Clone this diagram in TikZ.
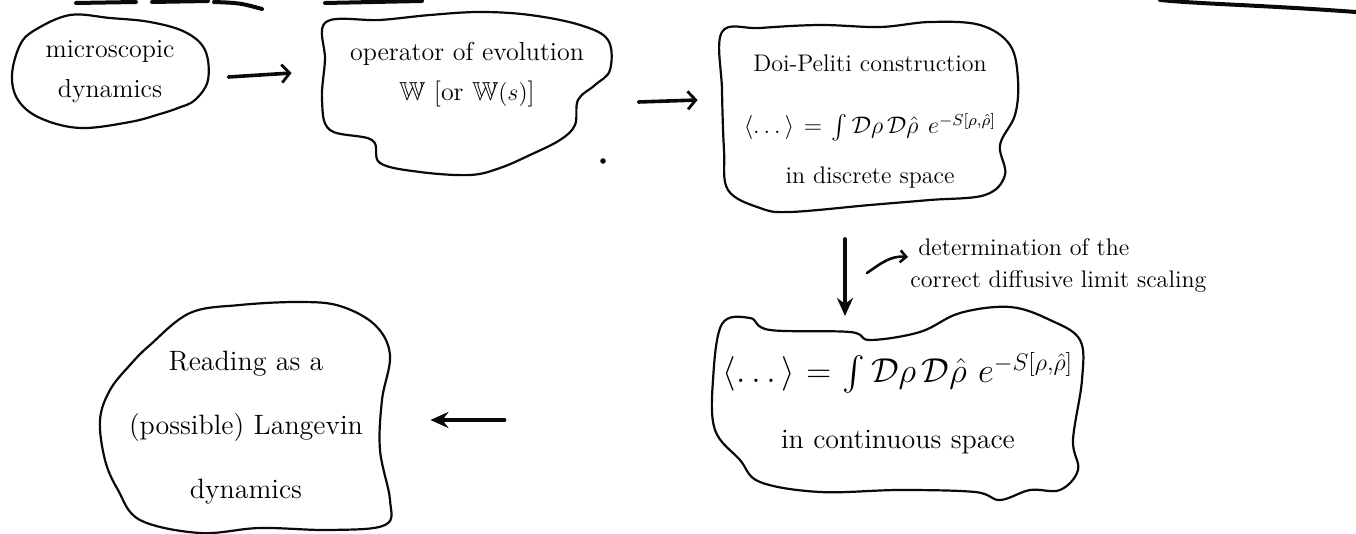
\documentclass[tikz,border=0pt]{standalone}
\usepackage{amsmath,amssymb}
\usepackage{fontspec}
\usepackage{tikz}
\usetikzlibrary{calc,arrows.meta}
\definecolor{inkBlack}{RGB}{10,10,10}

\begin{document}
\begin{tikzpicture}[x=0.5pt,y=-0.5pt,
  blob/.style={inkBlack, line width=1.1pt, line join=round},
  lbl/.style={inner sep=0pt, align=center, font=\fontsize{13}{20}\selectfont},
  arr/.style={inkBlack, line width=1.8pt, line cap=round, -{Straight Barb[length=4pt,width=9pt,line width=1.4pt]}},
  arrs/.style={inkBlack, line width=1.8pt, line cap=round, -{Stealth[length=9pt,width=8pt]}},
  anno/.style={inner sep=0pt, align=left, font=\fontsize{12}{16}\selectfont}]
\useasboundingbox (0,0) rectangle (1356,534);

\draw[inkBlack, line width=2pt, line cap=round] (76,3) -- (136,2);
\draw[inkBlack, line width=2pt, line cap=round] (152,2) -- (208,1);
\draw[inkBlack, line width=2pt, line cap=round] (214,2) .. controls (240,3) .. (262,9);
\draw[inkBlack, line width=2pt, line cap=round] (325,3) -- (422,1);
\draw[inkBlack, line width=2pt, line cap=round] (1160,0) .. controls (1200,4) and (1260,5) .. (1356,12);

\node[lbl, text width=100pt] (micro) at (110,72) {microscopic\\dynamics};
\node[lbl, text width=145pt] (evol) at (467,75) {operator of evolution\\$\mathbb{W}$ [or $\mathbb{W}(s)$]};
\node[lbl, text width=148pt, font=\fontsize{12}{25}\selectfont] (doi) at (870,122)
  {Doi-Peliti construction\\[6pt]
   $\langle\dots\rangle=\int\mathcal{D}\rho\,\mathcal{D}\hat{\rho}\;e^{-S[\rho,\hat{\rho}]}$\\
   in discrete space};
\node[lbl, text width=185pt, font=\fontsize{14}{33}\selectfont] (cont) at (898,403)
  {{\fontsize{17}{20}\selectfont$\langle\dots\rangle=\int\mathcal{D}\rho\,\mathcal{D}\hat{\rho}\;e^{-S[\rho,\hat{\rho}]}$}\\
   in continuous space};
\node[lbl, text width=146pt, font=\fontsize{14}{32}\selectfont] (lang) at (246,428)
  {Reading as a\\(possible) Langevin\\dynamics};
\node[anno, anchor=west] (scal) at (910,266) {\hspace*{4pt}determination of the\\correct diffusive limit scaling};

\draw[blob] plot[smooth cycle, tension=0.6] coordinates {(12,75) (20,45) (35,30) (70,15) (110,18) (150,22) (185,32) (205,50) (208,80) (195,100) (178,108) (160,114) (130,122) (80,128) (40,118) (18,100)};
\draw[blob] plot[smooth cycle, tension=0.6] coordinates {(326,22) (380,20) (430,15) (480,12) (530,15) (580,25) (608,40) (610,70) (595,85) (578,100) (575,125) (560,140) (530,155) (500,168) (470,175) (420,172) (380,163) (372,140) (330,130) (322,100) (325,60)};
\draw[blob] plot[smooth cycle, tension=0.6] coordinates {(722,32) (760,28) (820,25) (880,27) (930,22) (980,25) (1010,45) (1018,80) (1015,115) (1000,145) (1005,175) (985,195) (930,200) (870,205) (790,212) (760,208) (728,190) (724,150) (722,90)};
\draw[blob] plot[smooth cycle, tension=0.6] coordinates {(722,324) (750,318) (770,330) (850,332) (870,340) (920,332) (960,313) (1010,307) (1050,320) (1080,340) (1082,380) (1073,440) (1078,470) (1060,490) (1030,490) (1000,500) (975,492) (900,490) (820,492) (760,482) (740,460) (715,430) (713,380)};
\draw[blob] plot[smooth cycle, tension=0.6] coordinates {(150,345) (190,313) (240,305) (300,302) (340,306) (375,325) (390,355) (382,400) (380,450) (390,500) (385,525) (330,530) (260,528) (200,533) (140,520) (118,490) (105,460) (100,420) (110,390) (130,365)};

\fill[inkBlack] (603,161) circle (1.4pt);

\draw[arr] ($(micro.east)+(18,5)$) -- ($(evol.west)+(-30,-2)$);
\draw[arr] ($(evol.east)+(26,27)$) -- ($(doi.west)+(-24,-22)$);
\draw[arrs] ($(doi.center)+(-25,117)$) -- ($(cont.center)+(-53,-87)$);
\draw[arrs] ($(cont.west)+(-208,17)$) -- ($(lang.east)+(38,-8)$);

\coordinate (hook) at (867,273);
\draw[inkBlack, line width=1.3pt, line cap=round, -{Straight Barb[length=3pt,width=6pt]}] (hook) to[out=35,in=175] ($(scal.west)+(-2,-9)$);
\end{tikzpicture}
\end{document}
